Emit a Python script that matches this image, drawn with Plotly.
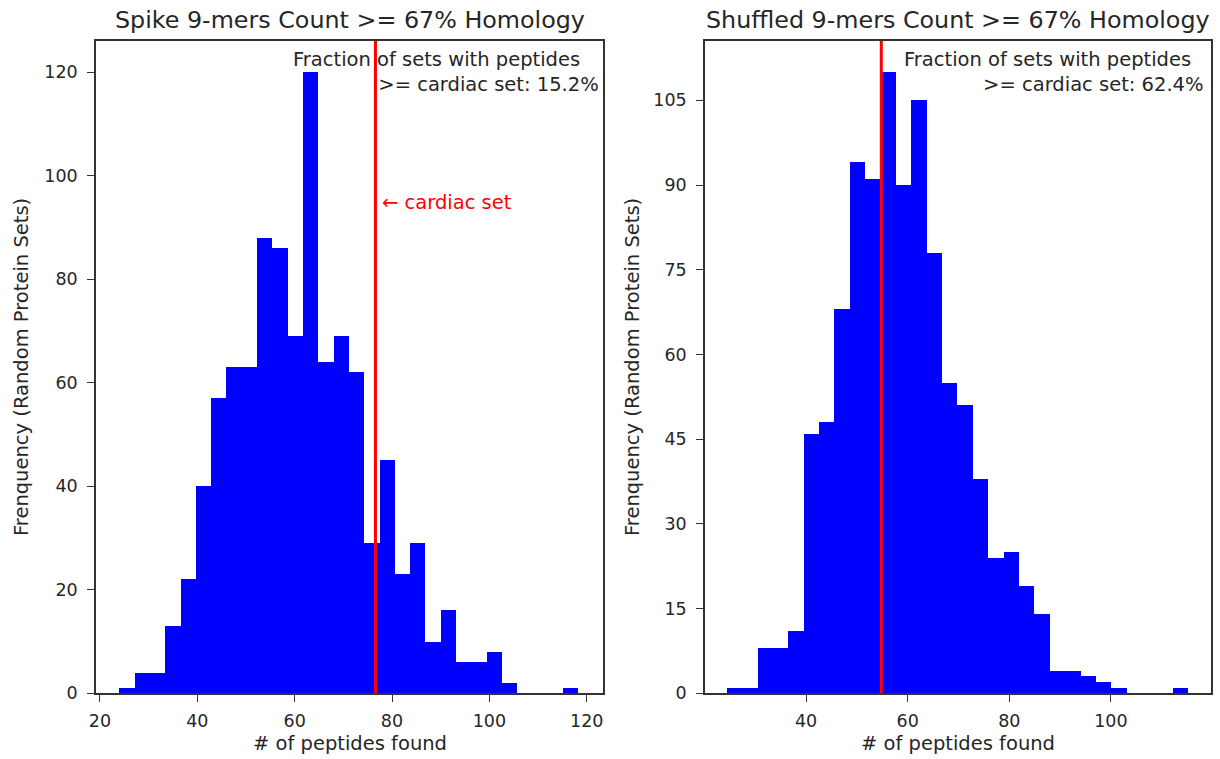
import plotly.graph_objects as go

# ---------------- data ----------------
spike_counts = [1, 4, 4, 13, 22, 40, 57, 63, 63, 88, 86, 69, 120, 64, 69,
                62, 29, 45, 23, 29, 10, 16, 6, 6, 8, 2, 0, 0, 0, 1]
spike_lo, spike_hi = 24.0, 118.3
spike_cardiac = 76.6
spike_fraction = "15.2%"

shuf_counts = [1, 1, 8, 8, 11, 46, 48, 68, 94, 91, 110, 90, 105, 78, 55,
               51, 38, 24, 25, 19, 14, 4, 4, 3, 2, 1, 0, 0, 0, 1]
shuf_lo, shuf_hi = 24.4, 115.2
shuf_cardiac = 54.8
shuf_fraction = "62.4%"

titles = ["Spike 9-mers Count >= 67% Homology", "Shuffled 9-mers Count >= 67% Homology"]
xlabel = "# of peptides found"
ylabel = "Frenquency (Random Protein Sets)"
spike_yticks = [0, 20, 40, 60, 80, 100, 120]
spike_xticks = [20, 40, 60, 80, 100, 120]
shuf_yticks = [0, 15, 30, 45, 60, 75, 90, 105]
shuf_xticks = [40, 60, 80, 100]

# ---------------- layout helpers ----------------
W, H = 1220, 759
FONT = "DejaVu Sans"
TXT = "#262626"
NB = "\u00a0"


def px_x(p):
    return p / W


def px_y(p):
    return 1 - p / H


def bins(lo, hi, counts):
    n = len(counts)
    w = (hi - lo) / n
    centers = [lo + w * (i + 0.5) for i in range(n)]
    return centers, w


fig = go.Figure()

c1, w1 = bins(spike_lo, spike_hi, spike_counts)
c2, w2 = bins(shuf_lo, shuf_hi, shuf_counts)

fig.add_trace(go.Bar(x=c1, y=spike_counts, width=w1, marker=dict(color="#0000ff", line=dict(width=0)),
                     xaxis="x", yaxis="y", showlegend=False))
fig.add_trace(go.Bar(x=c2, y=shuf_counts, width=w2, marker=dict(color="#0000ff", line=dict(width=0)),
                     xaxis="x2", yaxis="y2", showlegend=False))

ax_common = dict(showline=True, linecolor="#333333", linewidth=1.5, mirror=True,
                 ticks="outside", ticklen=7, tickwidth=1.3, tickcolor="#333333",
                 showgrid=False, zeroline=False, automargin=False,
                 tickfont=dict(family=FONT, size=17.5, color=TXT))

ydom = [px_y(693.3), px_y(41)]
fig.update_layout(
    width=W, height=H, margin=dict(l=0, r=0, t=0, b=0, autoexpand=False),
    paper_bgcolor="white", plot_bgcolor="white", bargap=0,
    xaxis=dict(domain=[px_x(96), px_x(603.3)], range=[19.2, 123.4], tickvals=spike_xticks,
               anchor="y", ticklabelstandoff=4, **ax_common),
    yaxis=dict(domain=ydom, range=[0, 126], tickvals=spike_yticks, anchor="x",
               ticklabelstandoff=6, **ax_common),
    xaxis2=dict(domain=[px_x(705), px_x(1211)], range=[20.1, 119.7], tickvals=shuf_xticks,
                anchor="y2", ticklabelstandoff=4, **ax_common),
    yaxis2=dict(domain=ydom, range=[0, 115.5], tickvals=shuf_yticks, anchor="x2",
                ticklabelstandoff=6, **ax_common),
)

# red cardiac lines
for xv, xr, yr in [(spike_cardiac, "x", "y domain"), (shuf_cardiac, "x2", "y2 domain")]:
    fig.add_shape(type="line", x0=xv, x1=xv, y0=0, y1=1, xref=xr, yref=yr,
                  line=dict(color="#ff0000", width=3))

ann = []
for t, cx in [(titles[0], (96 + 603.3) / 2), (titles[1], (705 + 1211) / 2)]:
    ann.append(dict(text=t, x=px_x(cx), y=px_y(20), xref="paper", yref="paper",
                    xanchor="center", yanchor="middle", showarrow=False,
                    font=dict(family=FONT, size=23.8, color=TXT)))
for cx in [(96 + 603.3) / 2, (705 + 1211) / 2]:
    ann.append(dict(text=xlabel, x=px_x(cx), y=px_y(743), xref="paper", yref="paper",
                    xanchor="center", yanchor="middle", showarrow=False,
                    font=dict(family=FONT, size=19.5, color=TXT)))
for cx in [22, 633]:
    ann.append(dict(text=ylabel, x=px_x(cx), y=px_y(367), xref="paper", yref="paper",
                    xanchor="center", yanchor="middle", showarrow=False, textangle=-90,
                    font=dict(family=FONT, size=19.5, color=TXT)))
# fraction annotations (two lines, right aligned block)
for frac, rx, pad in [(spike_fraction, 601, 3), (shuf_fraction, 1206, 2)]:
    ann.append(dict(text="Fraction of sets with peptides" + NB * pad + "<br>>= cardiac set: " + frac,
                    x=px_x(rx), y=px_y(72), xref="paper", yref="paper",
                    xanchor="right", yanchor="middle", align="right", showarrow=False,
                    font=dict(family=FONT, size=19.5, color=TXT)))
ann.append(dict(text="← cardiac set", x=px_x(380), y=px_y(203), xref="paper", yref="paper",
                xanchor="left", yanchor="middle", showarrow=False,
                font=dict(family=FONT, size=19.5, color="#ff0000")))

fig.update_layout(annotations=ann)

post = "document.body.style.margin='0';document.documentElement.style.overflow='hidden';"
fig.write_html("out.html", config={"displayModeBar": False}, post_script=post)
